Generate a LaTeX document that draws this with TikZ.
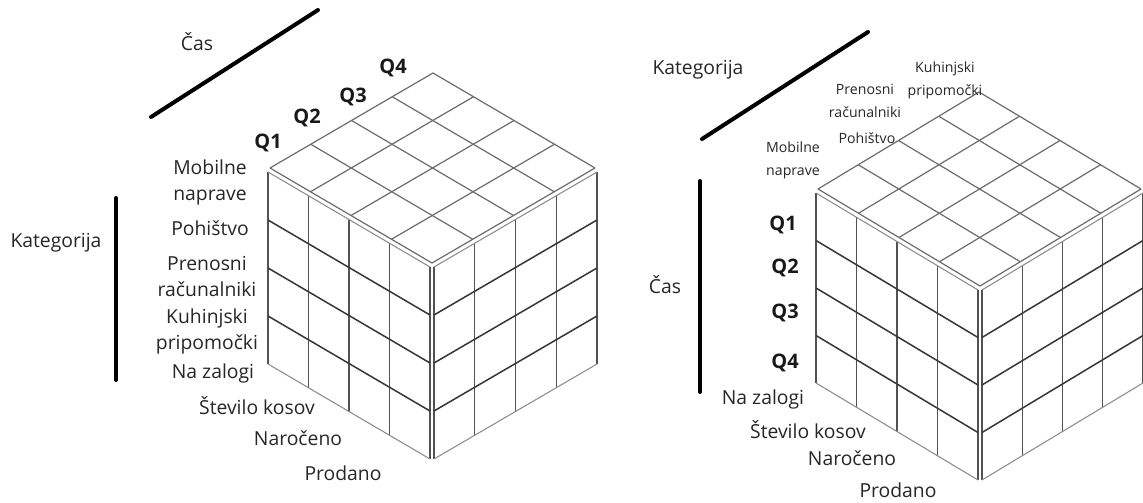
\documentclass[tikz,border=0pt]{standalone}
\usepackage{fontspec}
\setmainfont{Open Sans}
\tikzset{
  lbl/.style={font=\fontsize{14.5}{19.5}\selectfont, text=black!85, align=center, inner sep=0pt},
  sml/.style={font=\fontsize{10.6}{17}\selectfont, text=black!85, align=center, inner sep=0pt},
  qlbl/.style={font=\bfseries\fontsize{15}{15}\selectfont, text=black!90, inner sep=0pt},
  axisline/.style={line width=3pt, line cap=round, draw=black},
  vl/.style={draw=black!68, line width=1pt},
  hl/.style={draw=black!78, line width=1.15pt},
  edgel/.style={draw=black!45, line width=0.8pt},
  tl/.style={draw=black!58, line width=0.9pt},
}
% #1 ax, #2 ay, #3 bx, #4 by, #5 h  (front-top vertex at origin)
\newcommand{\mycube}[5]{%
  \begin{scope}[xshift=-1.5pt]
    \foreach \i in {0,...,4} {\draw[vl] ({\i*#1/4},{\i*#2/4}) -- ++(0,#5);}
    \foreach \k in {1,2,3} {\draw[hl] (0,{\k*#5/4}) -- ++(#1,#2);}
    \draw[edgel] (0,0) -- ++(#1,#2);
    \draw[edgel] (0,#5) -- ++(#1,#2);
  \end{scope}
  \begin{scope}[xshift=1.5pt]
    \foreach \i in {0,...,4} {\draw[vl] ({\i*#3/4},{\i*#4/4}) -- ++(0,#5);}
    \foreach \k in {1,2,3} {\draw[hl] (0,{\k*#5/4}) -- ++(#3,#4);}
    \draw[edgel] (0,0) -- ++(#3,#4);
    \draw[edgel] (0,#5) -- ++(#3,#4);
  \end{scope}
  \begin{scope}[yshift=3pt]
    \foreach \i in {0,...,4} {\draw[tl] ({\i*#1/4},{\i*#2/4}) -- ++(#3,#4);}
    \foreach \i in {0,...,4} {\draw[tl] ({\i*#3/4},{\i*#4/4}) -- ++(#1,#2);}
  \end{scope}
}
\begin{document}
\begin{tikzpicture}[x=0.75pt, y=-0.75pt]
\useasboundingbox (0,0) rectangle (1143,503);

% ---------- left cube ----------
\begin{scope}[shift={(432,267)}]
  \mycube{-162}{-95}{163}{-95}{192}
\end{scope}
\coordinate (lc1) at (151,117);
\coordinate (lc2) at (318,10);
\draw[axisline] (lc1) -- (lc2);
\coordinate (lk1) at (116,198);
\coordinate (lk2) at (116,380);
\draw[axisline] (lk1) -- (lk2);

\node[lbl] (lcas) at (197,42) {Čas};
\node[qlbl] (lq1) at (268,143) {Q1};
\node[qlbl] (lq2) at (307,118) {Q2};
\node[qlbl] (lq3) at (353,97) {Q3};
\node[qlbl] (lq4) at (393,68) {Q4};
\node[lbl] (lkat) at (56,243) {Kategorija};
\node[lbl] (lmob) at (210,182) {Mobilne\\naprave};
\node[lbl] (lpoh) at (210,228) {Pohištvo};
\node[lbl] (lpre) at (207,276) {Prenosni\\računalniki};
\node[lbl] (lkuh) at (207,331) {Kuhinjski\\pripomočki};
\node[lbl] (lzal) at (213,373) {Na zalogi};
\node[lbl] (lste) at (257,406) {Število kosov};
\node[lbl] (lnar) at (298,438) {Naročeno};
\node[lbl] (lpro) at (343,473) {Prodano};

% ---------- right cube ----------
\begin{scope}[shift={(980,290)}]
  \mycube{-162}{-97}{161}{-97}{190}
\end{scope}
\coordinate (rk1) at (702,139);
\coordinate (rk2) at (868,32);
\draw[axisline] (rk1) -- (rk2);
\coordinate (rc1) at (700,181);
\coordinate (rc2) at (700,392);
\draw[axisline] (rc1) -- (rc2);

\node[lbl] (rkat) at (698,70) {Kategorija};
\node[sml] (rkuh) at (945,80) {Kuhinjski\\pripomočki};
\node[sml] (rpre) at (865,101) {Prenosni\\računalniki};
\node[sml] (rpoh) at (867,138) {Pohištvo};
\node[sml] (rmob) at (793,160) {Mobilne\\naprave};
\node[lbl] (rcas) at (665,285) {Čas};
\node[qlbl] (rq1) at (783,225) {Q1};
\node[qlbl] (rq2) at (785,268) {Q2};
\node[qlbl] (rq3) at (785,313) {Q3};
\node[qlbl] (rq4) at (785,363) {Q4};
\node[lbl] (rzal) at (763,399) {Na zalogi};
\node[lbl] (rste) at (808,430) {Število kosov};
\node[lbl] (rnar) at (852,458) {Naročeno};
\node[lbl] (rpro) at (898,490) {Prodano};
\end{tikzpicture}
\end{document}
